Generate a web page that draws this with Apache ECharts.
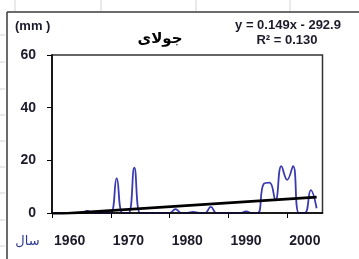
<!DOCTYPE html>
<html>
<head>
<meta charset="utf-8">
<script src="https://cdn.jsdelivr.net/npm/echarts@6/dist/echarts.min.js"></script>
<style>
html,body{margin:0;padding:0;background:#fff;}
#chart{width:359px;height:259px;}
</style>
</head>
<body>
<div id="chart"></div>
<script>
// ---- data ----
var years = [1957,1958,1959,1960,1961,1962,1963,1964,1965,1966,1967,1968,1969,1970,1971,1972,1973,1974,1975,1976,1977,1978,1979,1980,1981,1982,1983,1984,1985,1986,1987,1988,1989,1990,1991,1992,1993,1994,1995,1996,1997,1998,1999,2000,2001,2002];
var rainfall = [0,0,0,0,0,0,0.8,0,0,0,0,13.2,0,0,17.2,0,0,0,0,0,0,1.5,0,0,0.4,0,0,2.3,0,0,0,0,0,0.6,0,0,11.0,11.5,4.8,17.8,12.6,17.8,0,0,8.7,1.8];
var trendYears = [1957, 2002];
var trendValues = [-0.5, 6.0];
var xTickValues = [1957,1967,1977,1987,1997];
var xLabelValues = [1960,1970,1980,1990,2000];
var yTicks = [0,20,40,60];
var titleText = 'جولای';
var unitText = '(mm )';
var axisNameText = 'سال';
var eqLine1 = 'y = 0.149x - 292.9';
var eqLine2 = 'R² = 0.130';

var chart = echarts.init(document.getElementById('chart'), null, {renderer:'canvas'});

var rainData = years.map(function(y,i){return [y, rainfall[i]];});
var trendData = trendYears.map(function(y,i){return [y, trendValues[i]];});

var textColor = '#1b1b2b';
var font = '"Liberation Sans", Arial, sans-serif';

var gray = '#d4d4d4';
var sheetLines = [];
[15,101,196,290].forEach(function(x){
  sheetLines.push({type:'line', shape:{x1:x,y1:0,x2:x,y2:11}, style:{stroke:gray,lineWidth:1}, silent:true});
});
[35,62,89,115,141,167,193,220,246].forEach(function(y){
  sheetLines.push({type:'line', shape:{x1:0,y1:y,x2:5,y2:y}, style:{stroke:gray,lineWidth:1}, silent:true});
});

chart.setOption({
  animation:false,
  backgroundColor:'#ffffff',
  grid:{left:52, top:55, right:36.5, bottom:46, show:true, borderColor:'#333', borderWidth:1.5, backgroundColor:'transparent', z:-5},
  xAxis:{
    type:'value', min:1957, max:2003, z:1,
    splitLine:{show:false},
    axisLine:{show:true, onZero:false, lineStyle:{color:'#000', width:1.5}},
    axisTick:{show:true, customValues:xTickValues, length:5, inside:false, lineStyle:{color:'#000', width:1}},
    axisLabel:{customValues:xLabelValues, margin:21, color:textColor, fontSize:14, fontWeight:'bold', fontFamily:font,
      formatter:function(v){return String(Math.round(v));}}
  },
  yAxis:{
    type:'value', min:0, max:60, interval:20, z:1,
    splitLine:{show:false},
    axisLine:{show:true, lineStyle:{color:'#000', width:1.5}},
    axisTick:{show:true, length:5, lineStyle:{color:'#000', width:1}},
    axisLabel:{margin:16, color:textColor, fontSize:14, fontWeight:'bold', fontFamily:font}
  },
  series:[
    {type:'line', data:rainData, smooth:0.45, showSymbol:false, symbol:'none',
     lineStyle:{color:'#3a3ab0', width:1.8}, z:0},
    {type:'line', data:trendData, showSymbol:false, symbol:'none',
     lineStyle:{color:'#000', width:2.8}, z:3}
  ],
  graphic: sheetLines.concat([
    {type:'line', shape:{x1:7,y1:12,x2:359,y2:12}, style:{stroke:'#3a3a3a',lineWidth:1.5}, silent:true},
    {type:'line', shape:{x1:7,y1:12,x2:7,y2:259}, style:{stroke:'#3a3a3a',lineWidth:1.5}, silent:true},
    {type:'text', left:15, top:20, style:{text:unitText, fill:textColor, font:'bold 13px '+font}},
    {type:'text', x:160, y:39, style:{text:titleText, fill:'#000', font:'bold 15px "DejaVu Sans"', align:'center', verticalAlign:'middle'}},
    {type:'text', x:288, y:25, style:{text:eqLine1, fill:textColor, font:'bold 13px '+font, align:'center', verticalAlign:'middle'}},
    {type:'text', x:287, y:40, style:{text:eqLine2, fill:textColor, font:'bold 13px '+font, align:'center', verticalAlign:'middle'}},
    {type:'text', x:27.5, y:242, style:{text:axisNameText, fill:'#2b3990', font:'13px "DejaVu Sans"', align:'center', verticalAlign:'middle'}}
  ])
});
</script>
</body>
</html>
